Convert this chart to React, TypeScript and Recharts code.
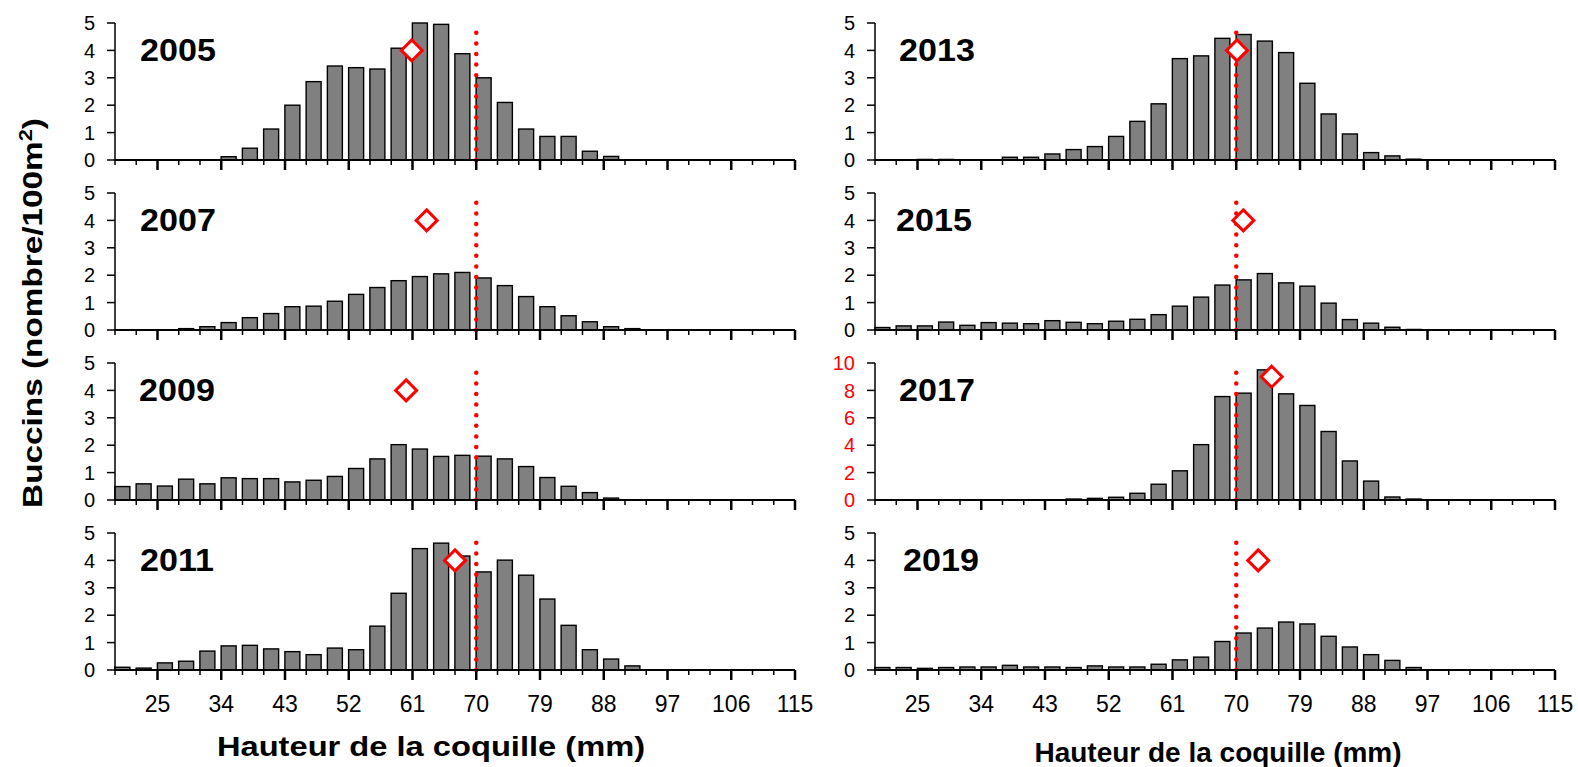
import React from "react";
import { ComposedChart, Bar, XAxis, YAxis, Scatter, ReferenceLine } from "recharts";

const FONT = "'Liberation Sans', Arial, sans-serif";

// size classes (lower bound of each 3 mm class)
const binStarts = [19, 22, 25, 28, 31, 34, 37, 40, 43, 46, 49, 52, 55, 58, 61, 64, 67, 70, 73, 76, 79, 82, 85, 88, 91, 94, 97, 100, 103, 106, 109, 112];
const xTicks = [19, 22, 25, 28, 31, 34, 37, 40, 43, 46, 49, 52, 55, 58, 61, 64, 67, 70, 73, 76, 79, 82, 85, 88, 91, 94, 97, 100, 103, 106, 109, 112, 115];
const xLabels = [25, 34, 43, 52, 61, 70, 79, 88, 97, 106, 115];

const v2005 = [0, 0, 0, 0, 0, 0.12, 0.43, 1.13, 2.0, 2.86, 3.43, 3.37, 3.32, 4.08, 5.0, 4.95, 3.88, 3.0, 2.1, 1.13, 0.86, 0.86, 0.32, 0.13, 0, 0, 0, 0, 0, 0, 0, 0];
const v2007 = [0, 0, 0, 0.05, 0.12, 0.27, 0.45, 0.6, 0.85, 0.87, 1.05, 1.3, 1.55, 1.8, 1.95, 2.05, 2.1, 1.9, 1.62, 1.22, 0.85, 0.52, 0.3, 0.12, 0.05, 0, 0, 0, 0, 0, 0, 0];
const v2009 = [0.49, 0.59, 0.51, 0.76, 0.59, 0.81, 0.78, 0.78, 0.66, 0.72, 0.86, 1.15, 1.5, 2.02, 1.86, 1.59, 1.63, 1.6, 1.5, 1.22, 0.82, 0.5, 0.27, 0.07, 0, 0, 0, 0, 0, 0, 0, 0];
const v2011 = [0.1, 0.07, 0.26, 0.32, 0.69, 0.88, 0.9, 0.77, 0.67, 0.56, 0.8, 0.74, 1.6, 2.8, 4.43, 4.63, 4.16, 3.58, 4.01, 3.46, 2.59, 1.63, 0.74, 0.4, 0.15, 0, 0, 0, 0, 0, 0, 0];
const v2013 = [0, 0, 0.02, 0.02, 0, 0, 0.1, 0.1, 0.22, 0.38, 0.49, 0.86, 1.41, 2.05, 3.7, 3.8, 4.44, 4.58, 4.34, 3.92, 2.8, 1.68, 0.95, 0.27, 0.15, 0.03, 0, 0, 0, 0, 0, 0];
const v2015 = [0.09, 0.15, 0.15, 0.29, 0.17, 0.27, 0.25, 0.23, 0.34, 0.28, 0.23, 0.32, 0.39, 0.56, 0.87, 1.2, 1.64, 1.83, 2.06, 1.72, 1.6, 0.98, 0.38, 0.25, 0.1, 0.02, 0, 0, 0, 0, 0, 0];
const v2017 = [0, 0, 0, 0, 0, 0, 0, 0, 0, 0.07, 0.12, 0.2, 0.49, 1.15, 2.13, 4.04, 7.55, 7.8, 9.5, 7.75, 6.9, 5.0, 2.85, 1.38, 0.22, 0.07, 0, 0, 0, 0, 0, 0];
const v2019 = [0.09, 0.09, 0.06, 0.09, 0.11, 0.11, 0.17, 0.11, 0.11, 0.09, 0.15, 0.11, 0.11, 0.21, 0.37, 0.47, 1.04, 1.35, 1.53, 1.75, 1.68, 1.23, 0.84, 0.56, 0.35, 0.09, 0, 0, 0, 0, 0, 0];

const years = ["2005", "2007", "2009", "2011", "2013", "2015", "2017", "2019"];
const series = [v2005, v2007, v2009, v2011, v2013, v2015, v2017, v2019];
// mean shell height (diamond) and the level it's drawn at
const meanSize = [60.9, 63, 60.1, 67, 70.1, 71, 75, 73.1];
const meanLevel = [4, 4, 4, 4, 4, 4, 9, 4];
const yMax = [5, 5, 5, 5, 5, 5, 10, 5];
const legalSize = 70;

const yearLeft = [140, 140, 139, 140, 139, 136, 139, 143];

const BarShape = (p: any) => {
  const { x, y, width, height } = p;
  if (!height || height <= 0) return null;
  return <rect x={x + width / 2} y={y} width={width} height={height} fill="#808080" stroke="#000" strokeWidth={1.4} />;
};

const Diamond = (p: any) => {
  const { cx, cy } = p;
  const r = 10.5;
  return <path d={`M${cx},${cy - r}L${cx + r},${cy}L${cx},${cy + r}L${cx - r},${cy}Z`} fill="#fff" stroke="#FF0000" strokeWidth={3} />;
};

const XTick = (props: any) => {
  const { x, y, payload, showLabel } = props;
  const major = xLabels.includes(payload.value);
  return (
    <g>
      <line x1={x} x2={x} y1={y} y2={y + (major ? 10 : 5)} stroke="#000" strokeWidth={major ? 2.5 : 1.5} />
      {showLabel && major && (
        <text x={x} y={y + 42} textAnchor="middle" fontSize={23} fontFamily={FONT} fill="#000">
          {payload.value}
        </text>
      )}
    </g>
  );
};

function Panel({ idx }: { idx: number }) {
  const col = idx < 4 ? 0 : 1;
  const row = idx % 4;
  const last = row === 3;
  const data = binStarts.map((x, i) => ({ x, v: series[idx][i] }));
  const top = yMax[idx];
  const yt = top === 10 ? [0, 2, 4, 6, 8, 10] : [0, 1, 2, 3, 4, 5];
  const tickColor = top === 10 ? "#FF0000" : "#000";
  return (
    <div style={{ position: "absolute", left: col * 760, top: row * 170 }}>
      <ComposedChart width={830} height={last ? 210 : 170} data={data} margin={{ top: 23, right: 35, bottom: 0, left: 55 }}>
        <XAxis
          type="number"
          dataKey="x"
          domain={[19, 115]}
          ticks={xTicks}
          interval={0}
          tickSize={0}
          tickMargin={0}
          tickLine={false}
          axisLine={{ stroke: "#000", strokeWidth: 2 }}
          height={last ? 50 : 10}
          tick={<XTick showLabel={last} />}
        />
        <XAxis xAxisId="mean" type="number" dataKey="x" domain={[19, 115]} hide />
        <YAxis
          type="number"
          domain={[0, top]}
          ticks={yt}
          interval={0}
          width={60}
          tickSize={8}
          tickMargin={12}
          axisLine={{ stroke: "#000", strokeWidth: 1.5 }}
          tickLine={{ stroke: "#000", strokeWidth: 1.5 }}
          tick={{ fontSize: 20, fill: tickColor, fontFamily: FONT }}
        />
        <Bar dataKey="v" barSize={15} shape={BarShape} isAnimationActive={false} />
        <ReferenceLine
          segment={[{ x: legalSize, y: 0 }, { x: legalSize, y: top * 0.932 }]}
          stroke="#FF0000"
          strokeWidth={4.5}
          strokeDasharray="0 10.6"
          strokeLinecap="round"
        />
        <Scatter
          xAxisId="mean"
          data={[{ x: meanSize[idx], y: meanLevel[idx] }]}
          dataKey="y"
          shape={Diamond}
          isAnimationActive={false}
        />
      </ComposedChart>
      <div
        style={{
          position: "absolute",
          left: yearLeft[idx],
          top: 160 - 109.3 - 16,
          fontSize: 31,
          fontWeight: 700,
          lineHeight: 1,
          fontFamily: FONT,
          transform: "scaleX(1.1)",
          transformOrigin: "left center",
        }}
      >
        {years[idx]}
      </div>
    </div>
  );
}

export default function App() {
  return (
    <div style={{ position: "absolute", left: 0, top: 0, width: 1578, height: 767, background: "#fff", fontFamily: FONT }}>
      {years.map((_, i) => (
        <Panel key={i} idx={i} />
      ))}
      <div
        style={{
          position: "absolute",
          left: 33,
          top: 313,
          transform: "translate(-50%,-50%) rotate(-90deg) scaleX(1.19)",
          fontWeight: 700,
          fontSize: 28,
          whiteSpace: "nowrap",
          lineHeight: 1,
        }}
      >
        Buccins (nombre/100m<sup style={{ fontSize: "0.65em", lineHeight: 0 }}>2</sup>)
      </div>
      <div style={{ position: "absolute", left: 431, top: 733, transform: "translateX(-50%) scaleX(1.166)", fontWeight: 700, fontSize: 28, whiteSpace: "nowrap", lineHeight: 1 }}>
        Hauteur de la coquille (mm)
      </div>
      <div style={{ position: "absolute", left: 1218, top: 739, transform: "translateX(-50%)", fontWeight: 700, fontSize: 28, whiteSpace: "nowrap", lineHeight: 1 }}>
        Hauteur de la coquille (mm)
      </div>
    </div>
  );
}
